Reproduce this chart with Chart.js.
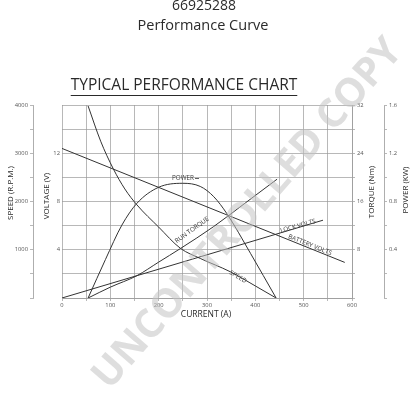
<!DOCTYPE html>
<html lang="en">
<head>
    <meta charset="UTF-8">
    <title>Performance Curve</title>
    <style>
        html, body { margin: 0; padding: 0; background: #fff; }
        #wrap { width: 414px; height: 400px; }
    </style>
</head>
<body>
<div id="wrap"><canvas id="perfChart" width="414" height="400"></canvas></div>
<script src="https://cdn.jsdelivr.net/npm/chart.js"></script>
<script>
    // Valores (corriente en A)
    const speedCurrent = [54, 80, 106, 130, 155, 200, 245, 286, 348, 400, 443];
    const speedRpm = [3980, 3250, 2680, 2260, 1930, 1470, 1030, 820, 545, 250, 0];

    const powerCurrent = [54, 90, 124, 155, 200, 250, 286, 314, 341, 390, 443];
    const powerKw = [0, 0.32, 0.605, 0.785, 0.918, 0.951, 0.925, 0.84, 0.70, 0.37, 0];

    const torqueCurrent = [54, 100, 155, 200, 245, 313, 380, 445];
    const torqueNm = [0, 1.8, 3.7, 5.95, 8.2, 11.8, 15.8, 19.7];

    const batteryCurrent = [0, 585];
    const batteryVolts = [12.4, 2.95];

    const lockCurrent = [0, 540];
    const lockVolts = [0, 6.45];

    // etiquetas de los ejes
    const currentTicks = [0, 100, 200, 300, 400, 500, 600];
    const speedTicks = [1000, 2000, 3000, 4000];
    const voltTicks = [4, 8, 12];
    const torqueTicks = [8, 16, 24, 32];
    const powerTicks = [0.4, 0.8, 1.2, 1.6];

    const toPoints = (xs, ys) => xs.map((x, i) => ({ x: x, y: ys[i] }));

    const ink = '#333';
    const gridColor = '#999';
    const tickFont = { family: 'Open Sans', size: 5.8 };

    function onlyTicks(list) {
        return function (value) {
            return list.some(v => Math.abs(v - value) < 1e-6) ? String(value) : '';
        };
    }

    // Textos sobre la grafica
    const textPlugin = {
        id: 'textos',
        afterDraw(chart) {
            const c = chart.ctx;
            c.save();
            c.fillStyle = '#2a2a2a';
            c.textAlign = 'center';
            c.textBaseline = 'middle';

            c.font = '14px "Open Sans"';
            c.fillText('66925288', 204, 6);
            c.font = '14.5px "Open Sans"';
            c.fillText('Performance Curve', 203, 26);

            c.font = '15.5px "Open Sans"';
            c.fillText('TYPICAL PERFORMANCE CHART', 184, 86);
            const w = c.measureText('TYPICAL PERFORMANCE CHART').width;
            c.strokeStyle = '#2a2a2a';
            c.lineWidth = 1;
            c.beginPath();
            c.moveTo(184 - w / 2, 95.5);
            c.lineTo(184 + w / 2, 95.5);
            c.stroke();

            c.font = '8.5px "Open Sans"';
            c.fillText('CURRENT (A)', 206, 315);

            const vertical = (txt, x, y) => {
                c.save();
                c.translate(x, y);
                c.rotate(-Math.PI / 2);
                c.fillText(txt, 0, 0);
                c.restore();
            };
            c.font = '8px "Open Sans"';
            vertical('SPEED (R.P.M.)', 11, 193);
            vertical('VOLTAGE (V)', 47, 196);
            vertical('TORQUE (Nm)', 372, 192);
            vertical('POWER (KW)', 406, 190);

            const along = (txt, x, y, deg) => {
                c.save();
                c.translate(x, y);
                c.rotate(deg * Math.PI / 180);
                c.fillText(txt, 0, 0);
                c.restore();
            };
            c.font = '6.3px "Open Sans"';
            c.fillStyle = '#3a3a3a';
            c.fillText('POWER', 183, 178);
            c.fillRect(195, 178, 4, 0.8);
            along('RUN TORQUE', 192, 230, -36);
            along('SPEED', 238, 277, 30);
            along('LOCK VOLTS', 298, 226, -16);
            along('BATTERY VOLTS', 310, 245, 22);

            // marca de agua
            c.save();
            c.translate(248, 214);
            c.rotate(-49 * Math.PI / 180);
            c.font = 'bold 40px "Open Sans"';
            c.fillStyle = 'rgba(195, 195, 195, 0.55)';
            c.fillText('UNCONTROLLED COPY', 0, 0);
            c.restore();

            c.restore();
        }
    };

    const lineStyle = {
        borderColor: ink,
        borderWidth: 1,
        pointRadius: 0,
        fill: false
    };

    const chart = new Chart(document.getElementById('perfChart').getContext('2d'), {
        type: 'line',
        data: {
            datasets: [
                Object.assign({ label: 'Speed', data: toPoints(speedCurrent, speedRpm), yAxisID: 'ySpeed', cubicInterpolationMode: 'monotone' }, lineStyle),
                Object.assign({ label: 'Power', data: toPoints(powerCurrent, powerKw), yAxisID: 'yPower', cubicInterpolationMode: 'monotone' }, lineStyle),
                Object.assign({ label: 'Run torque', data: toPoints(torqueCurrent, torqueNm), yAxisID: 'yTorque', cubicInterpolationMode: 'monotone' }, lineStyle),
                Object.assign({ label: 'Battery volts', data: toPoints(batteryCurrent, batteryVolts), yAxisID: 'yVolt' }, lineStyle),
                Object.assign({ label: 'Lock volts', data: toPoints(lockCurrent, lockVolts), yAxisID: 'yVolt' }, lineStyle)
            ]
        },
        options: {
            responsive: false,
            animation: false,
            events: [],
            layout: { padding: { top: 105, bottom: 82, left: 0, right: 0 } },
            plugins: { legend: { display: false }, tooltip: { enabled: false } },
            scales: {
                x: {
                    type: 'linear', min: 0, max: 600,
                    ticks: { stepSize: 50, callback: onlyTicks(currentTicks), color: '#555', font: tickFont, padding: 1, maxRotation: 0, autoSkip: false },
                    grid: { color: gridColor, lineWidth: 0.7, tickLength: 3 },
                    border: { color: gridColor, width: 0.8 },
                    afterFit: s => { s.height = 20; }
                },
                yVolt: {
                    position: 'left', weight: 1, min: 0, max: 16,
                    ticks: { stepSize: 2, callback: onlyTicks(voltTicks), color: '#555', font: tickFont, padding: 2 },
                    grid: { color: gridColor, lineWidth: 0.7, drawTicks: false },
                    border: { display: false },
                    afterFit: s => { s.width = 29; }
                },
                ySpeed: {
                    position: 'left', weight: 2, min: 0, max: 4000,
                    ticks: { stepSize: 500, callback: onlyTicks(speedTicks), color: '#555', font: tickFont, padding: 2 },
                    grid: { drawOnChartArea: false, color: gridColor, lineWidth: 0.7, tickLength: 3 },
                    border: { color: gridColor, width: 0.8 },
                    afterFit: s => { s.width = 33; }
                },
                yTorque: {
                    position: 'right', weight: 1, min: 0, max: 32,
                    ticks: { stepSize: 4, callback: onlyTicks(torqueTicks), color: '#555', font: tickFont, padding: 2 },
                    grid: { drawOnChartArea: false, color: gridColor, lineWidth: 0.7, tickLength: 3 },
                    border: { color: gridColor, width: 0.8 },
                    afterFit: s => { s.width = 32; }
                },
                yPower: {
                    position: 'right', weight: 2, min: 0, max: 1.6,
                    ticks: { stepSize: 0.2, callback: onlyTicks(powerTicks), color: '#555', font: tickFont, padding: 2 },
                    grid: { drawOnChartArea: false, color: gridColor, lineWidth: 0.7, tickLength: 3 },
                    border: { color: gridColor, width: 0.8 },
                    afterFit: s => { s.width = 30; }
                }
            }
        },
        plugins: [textPlugin]
    });
</script>
</body>
</html>
